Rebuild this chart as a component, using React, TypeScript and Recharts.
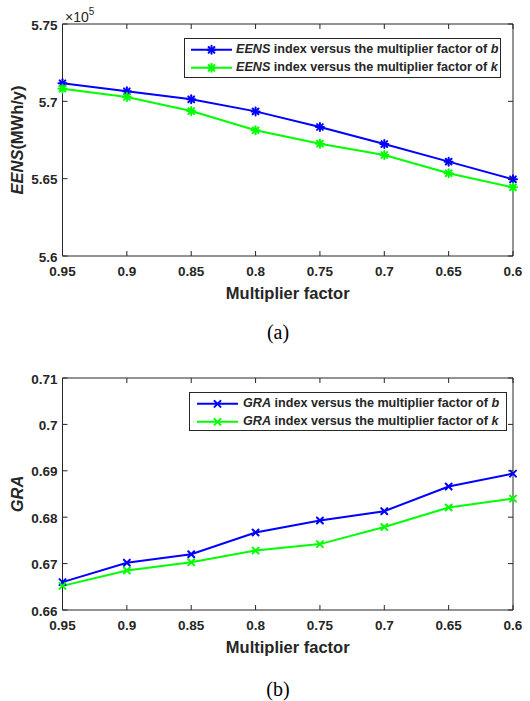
import React from 'react';
import { LineChart, Line, XAxis, YAxis, ReferenceArea, Legend } from 'recharts';

// ---------- data ----------
const multipliers = [0.95, 0.9, 0.85, 0.8, 0.75, 0.7, 0.65, 0.6];
const xTicks = [0.95, 0.9, 0.85, 0.8, 0.75, 0.7, 0.65, 0.6];

const eensB = [5.7117, 5.7065, 5.7013, 5.6935, 5.6834, 5.6724, 5.661, 5.6496];
const eensK = [5.7082, 5.7028, 5.6937, 5.6813, 5.6726, 5.6653, 5.6535, 5.6444];
const eensTicks = [5.6, 5.65, 5.7, 5.75];

const graB = [0.666, 0.6702, 0.672, 0.6767, 0.6793, 0.6813, 0.6866, 0.6894];
const graK = [0.6652, 0.6685, 0.6703, 0.6728, 0.6742, 0.6779, 0.6821, 0.684];
const graTicks = [0.66, 0.67, 0.68, 0.69, 0.7, 0.71];

const eensRows = multipliers.map((x, i) => ({ x, b: eensB[i], k: eensK[i] }));
const graRows = multipliers.map((x, i) => ({ x, b: graB[i], k: graK[i] }));

// ---------- style ----------
const FONT = '"Liberation Sans", Arial, Helvetica, sans-serif';
const SERIF = '"Liberation Serif", "Times New Roman", serif';
const INK = '#262626';
const BLUE = '#0000ff';
const GREEN = '#00ff00';
const W = 530;
const H = 310;
const PLOT_TOP = 24;
const PLOT_LEFT = 62.5;
const RIGHT_M = 17;
const XAXIS_H = 54;
const PLOT_H = H - PLOT_TOP - XAXIS_H;
const PLOT_W = W - PLOT_LEFT - RIGHT_M;

const XTick = (props: any) => {
  const { x, y, payload } = props;
  return (
    <g>
      <line x1={x} x2={x} y1={y} y2={y - 5} stroke={INK} strokeWidth={1} />
      <line x1={x} x2={x} y1={y - PLOT_H} y2={y - PLOT_H + 5} stroke={INK} strokeWidth={1} />
      <text x={x} y={y + 20} textAnchor="middle" fontFamily={FONT} fontWeight="bold" fontSize={13.5} fill={INK}>
        {String(payload.value)}
      </text>
    </g>
  );
};

const YTick = (props: any) => {
  const { x, y, payload } = props;
  return (
    <g>
      <line x1={x} x2={x + 5} y1={y} y2={y} stroke={INK} strokeWidth={1} />
      <line x1={x + PLOT_W} x2={x + PLOT_W - 5} y1={y} y2={y} stroke={INK} strokeWidth={1} />
      <text x={x - 5} y={y + 5.5} textAnchor="end" fontFamily={FONT} fontWeight="bold" fontSize={13.5} fill={INK}>
        {String(payload.value)}
      </text>
    </g>
  );
};

const StarMark = ({ cx, cy, stroke }: any) => {
  const r = 4;
  const d = 2.9;
  return (
    <g stroke={stroke} strokeWidth={2} strokeLinecap="round">
      <line x1={cx - r} x2={cx + r} y1={cy} y2={cy} />
      <line x1={cx} x2={cx} y1={cy - r} y2={cy + r} />
      <line x1={cx - d} x2={cx + d} y1={cy - d} y2={cy + d} />
      <line x1={cx - d} x2={cx + d} y1={cy + d} y2={cy - d} />
    </g>
  );
};

const XMark = ({ cx, cy, stroke }: any) => {
  const d = 3;
  return (
    <g stroke={stroke} strokeWidth={2} strokeLinecap="round">
      <line x1={cx - d} x2={cx + d} y1={cy - d} y2={cy + d} />
      <line x1={cx - d} x2={cx + d} y1={cy + d} y2={cy - d} />
    </g>
  );
};

const XLabel = (props: any) => {
  const vb = props.viewBox || {};
  return (
    <text x={vb.x + vb.width / 2} y={vb.y + 43} textAnchor="middle" fontFamily={FONT} fontWeight="bold" fontSize={16.5} fill={INK}>
      Multiplier factor
    </text>
  );
};

type PanelProps = {
  top: number;
  rows: any[];
  domain: [number, number];
  ticks: number[];
  Mark: any;
  name: string;
  yUnit: string;
  exponent: boolean;
  legend: { left: number; top: number; width: number; height: number; padTop: number; lineStart: number; gap: number };
  caption: string;
  captionTop: number;
};

function Panel(p: PanelProps) {
  const YLabel = (props: any) => {
    const vb = props.viewBox || {};
    const cx = vb.x + 22.7;
    const cy = vb.y + vb.height / 2;
    return (
      <text
        x={cx}
        y={cy}
        transform={`rotate(-90, ${cx}, ${cy})`}
        textAnchor="middle"
        fontFamily={FONT}
        fontWeight="bold"
        fontSize={16.5}
        fill={INK}
      >
        <tspan fontStyle="italic">{p.name}</tspan>
        {p.yUnit}
      </text>
    );
  };

  const series = [
    { key: 'b', color: BLUE, letter: 'b' },
    { key: 'k', color: GREEN, letter: 'k' },
  ];

  const lg = p.legend;
  const renderLegend = () => (
    <div
      style={{
        width: lg.width,
        height: lg.height,
        boxSizing: 'border-box',
        border: `1px solid ${INK}`,
        background: '#fff',
        paddingTop: lg.padTop,
        paddingLeft: lg.lineStart,
        fontFamily: FONT,
        fontWeight: 'bold',
        fontSize: 12.6,
        color: INK,
      }}
    >
      {series.map((s) => (
        <div key={s.key} style={{ display: 'flex', alignItems: 'center', height: 17.7, lineHeight: '17.7px', whiteSpace: 'nowrap' }}>
          <svg width={41} height={17.7} style={{ display: 'block', flex: 'none' }}>
            <line x1={0} x2={41} y1={8.85} y2={8.85} stroke={s.color} strokeWidth={2} />
            <p.Mark cx={20.5} cy={8.85} stroke={s.color} />
          </svg>
          <span style={{ marginLeft: lg.gap }}>
            <i>{p.name}</i> index versus the multiplier factor of <i>{s.letter}</i>
          </span>
        </div>
      ))}
    </div>
  );

  return (
    <div style={{ position: 'absolute', left: 0, top: p.top, width: W, height: H + 80 }}>
      <LineChart width={W} height={H} data={p.rows} margin={{ top: PLOT_TOP, right: RIGHT_M, bottom: 0, left: 0 }}>
        <XAxis
          dataKey="x"
          type="number"
          domain={[0.6, 0.95]}
          reversed
          ticks={xTicks}
          interval={0}
          tickSize={0}
          tickMargin={0}
          axisLine={false}
          tickLine={false}
          tick={<XTick />}
          height={XAXIS_H}
          label={{ content: XLabel }}
        />
        <YAxis
          type="number"
          domain={p.domain}
          ticks={p.ticks}
          interval={0}
          width={PLOT_LEFT}
          tickSize={0}
          tickMargin={0}
          axisLine={false}
          tickLine={false}
          tick={<YTick />}
          label={{ content: YLabel }}
        />
        <ReferenceArea
          x1={0.6}
          x2={0.95}
          y1={p.domain[0]}
          y2={p.domain[1]}
          fill="none"
          fillOpacity={0}
          stroke={INK}
          strokeWidth={1}
          ifOverflow="visible"
        />
        {series.map((s) => (
          <Line
            key={s.key}
            type="linear"
            dataKey={s.key}
            stroke={s.color}
            strokeWidth={2}
            isAnimationActive={false}
            activeDot={false}
            dot={(d: any) => <p.Mark key={`${s.key}-${d.index}`} cx={d.cx} cy={d.cy} stroke={s.color} />}
          />
        ))}
        <Legend
          layout="horizontal"
          verticalAlign="middle"
          align="center"
          content={renderLegend}
          wrapperStyle={{ position: 'absolute', left: lg.left, top: lg.top, width: lg.width, height: lg.height, margin: 0 }}
        />
      </LineChart>
      {p.exponent ? (
        <div
          style={{
            position: 'absolute',
            left: 65,
            top: 9,
            fontFamily: FONT,
            fontSize: 14,
            lineHeight: '16px',
            color: INK,
            whiteSpace: 'nowrap',
          }}
        >
          ×10
          <sup style={{ fontSize: 10, verticalAlign: 'baseline', position: 'relative', top: -7 }}>5</sup>
        </div>
      ) : null}
      <div
        style={{
          position: 'absolute',
          left: 278,
          top: p.captionTop,
          transform: 'translateX(-50%)',
          fontFamily: SERIF,
          fontSize: 20,
          lineHeight: '20px',
          color: '#000',
          whiteSpace: 'nowrap',
        }}
      >
        {p.caption}
      </div>
    </div>
  );
}

export default function App() {
  return (
    <div style={{ position: 'absolute', left: 0, top: 0, width: W, height: 701, background: '#fff' }}>
      <Panel
        top={0}
        rows={eensRows}
        domain={[5.6, 5.75]}
        ticks={eensTicks}
        Mark={StarMark}
        name="EENS"
        yUnit="(MWh/y)"
        exponent={true}
        legend={{ left: 184, top: 37.7, width: 317, height: 40, padTop: 2.3, lineStart: 6, gap: 4 }}
        caption="(a)"
        captionTop={322}
      />
      <Panel
        top={354}
        rows={graRows}
        domain={[0.66, 0.71]}
        ticks={graTicks}
        Mark={XMark}
        name="GRA"
        yUnit=""
        exponent={false}
        legend={{ left: 189, top: 38, width: 318, height: 39, padTop: 2, lineStart: 7, gap: 5 }}
        caption="(b)"
        captionTop={325}
      />
    </div>
  );
}
